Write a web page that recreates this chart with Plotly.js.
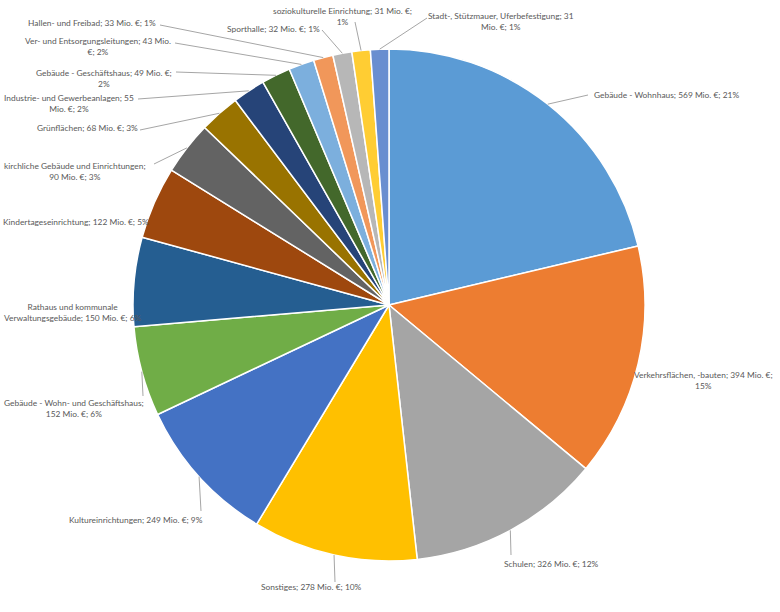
<!DOCTYPE html>
<html>
<head>
<meta charset="utf-8">
<script src="https://cdn.plot.ly/plotly-3.0.1.min.js"></script>
<style>
  html, body { margin: 0; padding: 0; background: #ffffff; }
  #chart { width: 780px; height: 612px; }
</style>
</head>
<body>
<div id="chart"></div>
<script>
var categories = ['Gebäude - Wohnhaus', 'Verkehrsflächen, -bauten', 'Schulen', 'Sonstiges',
  'Kultureinrichtungen', 'Gebäude - Wohn- und Geschäftshaus', 'Rathaus und kommunale Verwaltungsgebäude',
  'Kindertageseinrichtung', 'kirchliche Gebäude und Einrichtungen', 'Grünflächen',
  'Industrie- und Gewerbeanlagen', 'Gebäude - Geschäftshaus', 'Ver- und Entsorgungsleitungen',
  'Hallen- und Freibad', 'Sporthalle', 'soziokulturelle Einrichtung', 'Stadt-, Stützmauer, Uferbefestigung'];
var values = [569, 394, 326, 278, 249, 152, 150, 122, 90, 68, 55, 49, 43, 33, 32, 31, 31];

// label text as Excel wrapped it
var labelTexts = [
  'Gebäude - Wohnhaus; 569 Mio. €; 21%',
  'Verkehrsflächen, -bauten; 394 Mio. €;<br>15%',
  'Schulen; 326 Mio. €; 12%',
  'Sonstiges; 278 Mio. €; 10%',
  'Kultureinrichtungen; 249 Mio. €; 9%',
  'Gebäude - Wohn- und Geschäftshaus;<br>152 Mio. €; 6%',
  'Rathaus und kommunale<br>Verwaltungsgebäude; 150 Mio. €; 6%',
  'Kindertageseinrichtung; 122 Mio. €; 5%',
  'kirchliche Gebäude und Einrichtungen;<br>90 Mio. €; 3%',
  'Grünflächen; 68 Mio. €; 3%',
  'Industrie- und Gewerbeanlagen; 55<br>Mio. €; 2%',
  'Gebäude - Geschäftshaus; 49 Mio. €;<br>2%',
  'Ver- und Entsorgungsleitungen; 43 Mio.<br>€; 2%',
  'Hallen- und Freibad; 33 Mio. €; 1%',
  'Sporthalle; 32 Mio. €; 1%',
  'soziokulturelle Einrichtung; 31 Mio. €;<br>1%',
  'Stadt-, Stützmauer, Uferbefestigung; 31<br>Mio. €; 1%'
];

var colors = ['#5B9BD5', '#ED7D31', '#A5A5A5', '#FFC000', '#4472C4', '#70AD47',
  '#255E91', '#9E480E', '#636363', '#997300', '#264478', '#43682B',
  '#7CAFDD', '#F1975A', '#B7B7B7', '#FFCD33', '#698ED0'];

// label layout (pixels): text position, anchor, leader line end (null = no line)
var labelPos = [
  [592, 95, 'left'], [703, 380, 'center'], [551, 564, 'center'], [311, 587, 'center'],
  [136, 520, 'center'], [74, 408, 'center'], [73, 312, 'center'], [76, 222, 'center'],
  [75, 171, 'center'], [87, 128, 'center'], [69, 103, 'center'], [104, 78, 'center'],
  [98, 47, 'center'], [92, 23, 'center'], [273, 29, 'center'], [342, 16, 'center'],
  [501, 22, 'center']
];
var leaderEnds = [
  [588, 95], null, [511, 555], [335, 582], [201, 511], [143, 396], null, null,
  [154, 164], [140, 130], [138, 99], [176, 72], [175, 43], [160, 25], [322, 30],
  [355, 22], [427, 18]
];

var W = 780, H = 612;
var cx = 389, cy = 305, r = 256;
function px(x) { return x / W; }
function py(y) { return 1 - y / H; }

var total = values.reduce(function(a, b) { return a + b; }, 0);

var annotations = [];
var shapes = [];
var cum = 0;
for (var i = 0; i < values.length; i++) {
  var mid = (cum + values[i] / 2) / total * 2 * Math.PI;
  cum += values[i];
  var ex = cx + r * Math.sin(mid);
  var ey = cy - r * Math.cos(mid);
  annotations.push({
    xref: 'paper', yref: 'paper',
    x: px(labelPos[i][0]), y: py(labelPos[i][1]),
    xanchor: labelPos[i][2], yanchor: 'middle',
    text: labelTexts[i],
    align: 'center',
    showarrow: false,
    font: { family: 'Lato', size: 8.4, color: '#595959' }
  });
  if (leaderEnds[i]) {
    shapes.push({
      type: 'line', xref: 'paper', yref: 'paper',
      x0: px(ex), y0: py(ey),
      x1: px(leaderEnds[i][0]), y1: py(leaderEnds[i][1]),
      line: { color: '#A6A6A6', width: 1 }
    });
  }
}

var data = [{
  type: 'pie',
  labels: categories,
  values: values,
  sort: false,
  direction: 'clockwise',
  rotation: 0,
  textinfo: 'none',
  hoverinfo: 'label+value+percent',
  marker: {
    colors: colors,
    line: { color: '#ffffff', width: 1.5 }
  },
  domain: {
    x: [px(cx - r), px(cx + r)],
    y: [py(cy + r), py(cy - r)]
  },
  showlegend: false
}];

var layout = {
  width: W,
  height: H,
  margin: { l: 0, r: 0, t: 0, b: 0, pad: 0 },
  paper_bgcolor: '#ffffff',
  plot_bgcolor: '#ffffff',
  annotations: annotations,
  shapes: shapes,
  showlegend: false
};

Plotly.newPlot('chart', data, layout, { displayModeBar: false });
</script>
</body>
</html>
